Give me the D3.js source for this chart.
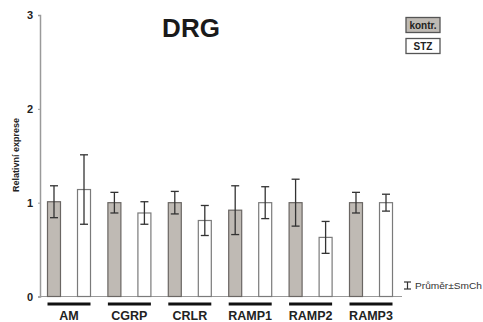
<!DOCTYPE html>
<html><head><meta charset="utf-8">
<script src="https://cdn.jsdelivr.net/npm/d3@7"></script>
<style>body{margin:0;background:#fff}svg{display:block}</style>
</head><body>
<svg id="c" width="483" height="322"></svg>
<script>
const categories = ["AM","CGRP","CRLR","RAMP1","RAMP2","RAMP3"];
const series = ["kontr.","STZ"];
const kontrMean = [1.01,1.00,1.00,0.92,1.00,1.00];
const kontrErr  = [0.17,0.11,0.12,0.26,0.25,0.11];
const stzMean   = [1.14,0.89,0.81,1.00,0.63,1.00];
const stzErr    = [0.37,0.12,0.16,0.17,0.17,0.09];
const yTicks = [0,1,2,3];
const title = "DRG";
const yLabel = "Relativní exprese";
const errLegend = "Průměr±SmCh";

const svg = d3.select("#c");
const font = "Arial, 'Liberation Sans', sans-serif";
const y = d3.scaleLinear().domain([0,3]).range([296.5,15]);
const x = d3.scaleBand().domain(categories).range([38.8, 38.8+362.4]).paddingInner(0.288).paddingOuter(0.144);
const xs = d3.scaleBand().domain(series).range([0, x.bandwidth()]).paddingInner(0.567);
const fills = {"kontr.":"#bfbab4","STZ":"#ffffff"};
const strokes = {"kontr.":"#6a6663","STZ":"#7a7a7a"};

const data = [];
categories.forEach((c,i)=>{
  data.push({c, s:"kontr.", m:kontrMean[i], e:kontrErr[i]});
  data.push({c, s:"STZ", m:stzMean[i], e:stzErr[i]});
});

// y axis
const yAxis = d3.axisLeft(y).tickValues(yTicks).tickSize(2).tickPadding(5).tickFormat(d3.format("d"));
const ga = svg.append("g").attr("transform","translate(40,0)").call(yAxis);
ga.select(".domain").attr("stroke","#9a9a9a").attr("stroke-width",1.5);
ga.selectAll(".tick line").attr("stroke","#9a9a9a");
ga.selectAll(".tick text").attr("font-family",font).attr("font-weight","bold").attr("font-size",11).attr("fill","#222");

// baseline
svg.append("line").attr("x1",40).attr("x2",402).attr("y1",y(0)).attr("y2",y(0)).attr("stroke","#9a9a9a").attr("stroke-width",1.2);

// bars
svg.append("g").selectAll("rect").data(data).join("rect")
  .attr("x",d=>x(d.c)+xs(d.s)).attr("width",xs.bandwidth())
  .attr("y",d=>y(d.m)).attr("height",d=>y(0)-y(d.m))
  .attr("fill",d=>fills[d.s]).attr("stroke",d=>strokes[d.s]).attr("stroke-width",1.2);

// error bars
const eg = svg.append("g").attr("stroke","#333").attr("stroke-width",1.3);
data.forEach(d=>{
  const cx = x(d.c)+xs(d.s)+xs.bandwidth()/2;
  eg.append("line").attr("x1",cx).attr("x2",cx).attr("y1",y(d.m+d.e)).attr("y2",y(d.m-d.e));
  eg.append("line").attr("x1",cx-4).attr("x2",cx+4).attr("y1",y(d.m+d.e)).attr("y2",y(d.m+d.e));
  eg.append("line").attr("x1",cx-4).attr("x2",cx+4).attr("y1",y(d.m-d.e)).attr("y2",y(d.m-d.e));
});

// category underlines & labels
svg.append("g").selectAll("line").data(categories).join("line")
  .attr("x1",d=>x(d)).attr("x2",d=>x(d)+x.bandwidth()).attr("y1",304).attr("y2",304)
  .attr("stroke","#111").attr("stroke-width",3);
svg.append("g").selectAll("text").data(categories).join("text")
  .attr("x",d=>x(d)+x.bandwidth()/2).attr("y",320).attr("text-anchor","middle")
  .attr("font-family",font).attr("font-weight","bold").attr("font-size",12.5).attr("fill","#222").text(d=>d);

// title
svg.append("text").attr("x",191).attr("y",36.5).attr("text-anchor","middle")
  .attr("font-family",font).attr("font-weight","bold").attr("font-size",26).attr("fill","#1a1a1a").text(title);

// y label
svg.append("text").attr("transform","translate(19,155) rotate(-90)").attr("text-anchor","middle")
  .attr("font-family",font).attr("font-weight","bold").attr("font-size",9).attr("fill","#222").text(yLabel);

// legend
const lg = svg.append("g");
series.forEach((s,i)=>{
  const ty = 17.5 + i*21;
  lg.append("rect").attr("x",406).attr("y",ty).attr("width",34).attr("height",15)
    .attr("fill",fills[s]).attr("stroke","#555").attr("stroke-width",1.3);
  lg.append("text").attr("x",423).attr("y",ty+11).attr("text-anchor","middle")
    .attr("font-family",font).attr("font-weight","bold").attr("font-size",10).attr("fill","#222").text(s);
});

// error legend
const el = svg.append("g").attr("stroke","#333").attr("stroke-width",1.2);
el.append("line").attr("x1",407.5).attr("x2",407.5).attr("y1",282).attr("y2",289);
el.append("line").attr("x1",404).attr("x2",411).attr("y1",282).attr("y2",282);
el.append("line").attr("x1",404).attr("x2",411).attr("y1",289).attr("y2",289);
svg.append("text").attr("x",415).attr("y",289).attr("font-family",font).attr("font-size",9)
  .attr("fill","#333").attr("textLength",67).attr("lengthAdjust","spacingAndGlyphs").text(errLegend);
</script>
</body></html>
